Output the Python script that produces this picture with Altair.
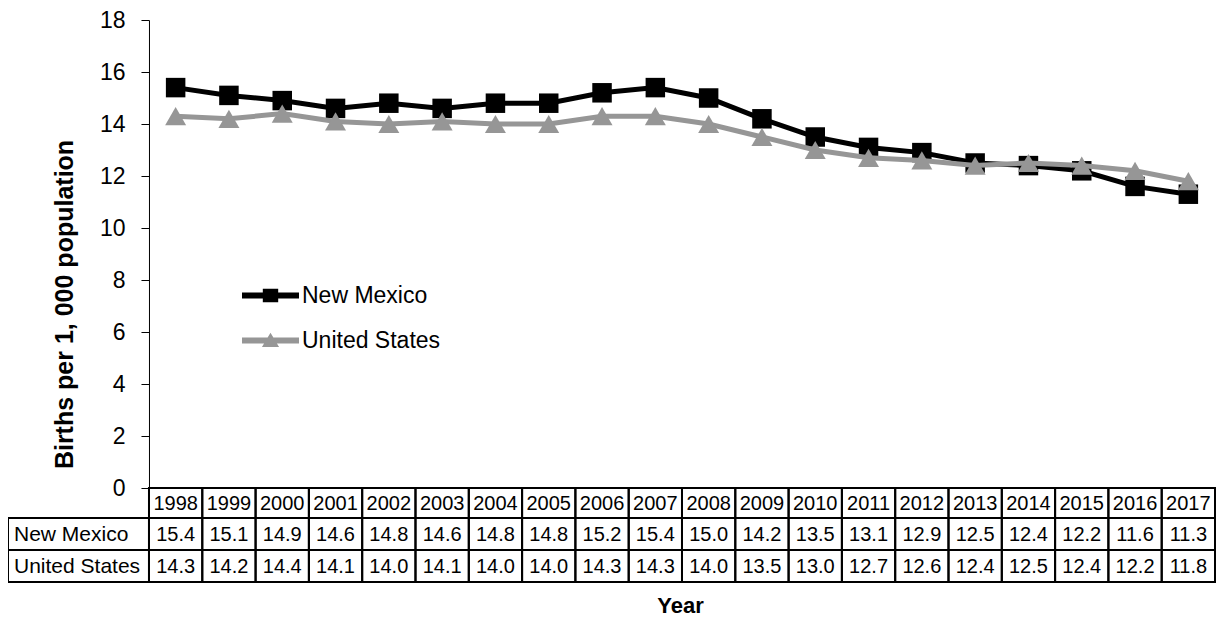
import altair as alt
import pandas as pd

# ---- data ----
years = list(range(1998, 2018))
new_mexico = [15.4, 15.1, 14.9, 14.6, 14.8, 14.6, 14.8, 14.8, 15.2, 15.4,
              15.0, 14.2, 13.5, 13.1, 12.9, 12.5, 12.4, 12.2, 11.6, 11.3]
united_states = [14.3, 14.2, 14.4, 14.1, 14.0, 14.1, 14.0, 14.0, 14.3, 14.3,
                 14.0, 13.5, 13.0, 12.7, 12.6, 12.4, 12.5, 12.4, 12.2, 11.8]
series_names = ["New Mexico", "United States"]
series_colors = ["#000000", "#969696"]
y_ticks = list(range(0, 19, 2))

# ---- table layout (in data units of the shared scales) ----
LABEL_COL = 2.645                          # row-label column width, in year columns
ROW_EDGES = [0.0, -1.154, -2.385, -3.615]  # header, New Mexico, United States
FONT = "Liberation Sans"
PLOT_W, PLOT_H = 1207, 562

rows = []
for s, vals in zip(series_names, [new_mexico, united_states]):
    for i, (yr, v) in enumerate(zip(years, vals)):
        rows.append({"year": yr, "series": s, "value": v, "col": i + 0.5})
df = pd.DataFrame(rows)

cells = []
for i, yr in enumerate(years):
    cells.append({"x": i, "x2": i + 1, "y": ROW_EDGES[0], "y2": ROW_EDGES[1],
                  "text": str(yr), "kind": "num"})
for r, (s, vals) in enumerate(zip(series_names, [new_mexico, united_states])):
    top, bot = ROW_EDGES[r + 1], ROW_EDGES[r + 2]
    cells.append({"x": -LABEL_COL, "x2": 0, "y": top, "y2": bot, "text": s, "kind": "label"})
    for i, v in enumerate(vals):
        cells.append({"x": i, "x2": i + 1, "y": top, "y2": bot,
                      "text": f"{v:.1f}", "kind": "num"})
cells_df = pd.DataFrame(cells)
cells_df["xc"] = (cells_df["x"] + cells_df["x2"]) / 2
cells_df["yc"] = (cells_df["y"] + cells_df["y2"]) / 2

xscale = alt.Scale(domain=[-LABEL_COL, len(years)], nice=False, zero=False)
yscale = alt.Scale(domain=[ROW_EDGES[-1], 18], nice=False, zero=False)
color_scale = alt.Scale(domain=series_names, range=series_colors)
axis_offset = -LABEL_COL * PLOT_W / (len(years) + LABEL_COL)

x_axis = alt.Axis(labels=False, ticks=False, domain=False, grid=False,
                  title="Year", titleFont=FONT, titleFontSize=22, titleFontWeight="bold",
                  titleColor="black", titleX=672, titleY=30, titleAlign="center",
                  titleBaseline="alphabetic")
y_axis = alt.Axis(values=y_ticks, offset=axis_offset, domain=True, domainColor="black",
                  domainWidth=1, ticks=True, tickSize=8, tickColor="black", tickWidth=1,
                  labelFont=FONT, labelFontSize=23, labelColor="black", labelPadding=16,
                  grid=False, title="Births  per 1, 000 population", titleFont=FONT,
                  titleFontSize=25, titleFontWeight="bold", titleColor="black",
                  titleAngle=270, titleX=-76, titleY=284, titleAlign="center",
                  titleBaseline="alphabetic")

base = alt.Chart(df)

def line_layer(name):
    return base.transform_filter(alt.datum.series == name).mark_line(strokeWidth=5).encode(
        x=alt.X("col:Q", scale=xscale, axis=x_axis),
        y=alt.Y("value:Q", scale=yscale, axis=y_axis),
        color=alt.Color("series:N", scale=color_scale, legend=None),
    )

def point_layer(name, shape, color, size):
    return base.transform_filter(alt.datum.series == name).mark_point(
        shape=shape, filled=True, opacity=1, color=color, size=size
    ).encode(x="col:Q", y="value:Q")

legend_paths = [
    "M-1,-0.105H1V0.105H-1Z M-0.27,-0.24H0.27V0.24H-0.27Z",
    "M-1,-0.105H1V0.105H-1Z M-0.3,0.23L0,-0.27L0.3,0.23Z",
]
legend = alt.Legend(orient="none", legendX=234, legendY=247, title=None,
                    symbolSize=3249, symbolOpacity=1, symbolStrokeWidth=0,
                    labelFont=FONT, labelFontSize=23, labelColor="black",
                    labelOffset=3, rowPadding=4, padding=0)
legend_layer = base.mark_point(filled=True, opacity=0).encode(
    x="col:Q", y="value:Q",
    color=alt.Color("series:N", scale=color_scale, legend=legend),
    shape=alt.Shape("series:N", scale=alt.Scale(domain=series_names, range=legend_paths),
                    legend=legend),
)

cells_chart = alt.Chart(cells_df)
cell_rects = cells_chart.transform_filter(alt.datum.kind == "num").mark_rect(
    fillOpacity=0, stroke="black", strokeWidth=2
).encode(x="x:Q", x2="x2", y="y:Q", y2="y2")
label_rects = cells_chart.transform_filter(alt.datum.kind == "label").mark_rect(
    fillOpacity=0, stroke="black", strokeWidth=2
).encode(x="x:Q", x2="x2", y="y:Q", y2="y2")
num_text = cells_chart.transform_filter(alt.datum.kind == "num").mark_text(
    font=FONT, fontSize=20, color="black", baseline="middle", align="center", dy=1
).encode(x="xc:Q", y="yc:Q", text="text:N")
label_text = cells_chart.transform_filter(alt.datum.kind == "label").mark_text(
    font=FONT, fontSize=21, color="black", baseline="middle", align="left", dx=6, dy=1
).encode(x="x:Q", y="yc:Q", text="text:N")

chart = alt.layer(
    legend_layer,
    cell_rects, label_rects, num_text, label_text,
    line_layer("New Mexico"),
    point_layer("New Mexico", "square", "#000000", 380),
    line_layer("United States"),
    point_layer("United States", "triangle-up", "#969696", 440),
).properties(
    width=PLOT_W, height=PLOT_H,
    autosize=alt.AutoSizeParams(type="none"),
    padding={"left": 0, "top": 12, "right": 2, "bottom": 36},
).configure(font=FONT).configure_view(stroke=None)

chart.save("out.html", embed_options={"renderer": "svg", "actions": False})
